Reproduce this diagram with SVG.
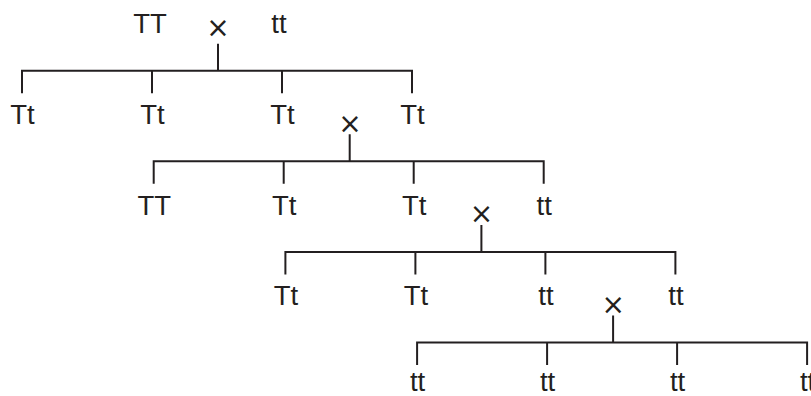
<svg xmlns="http://www.w3.org/2000/svg" width="811" height="396" viewBox="0 0 811 396">
<style>
.lbl{font-family:"Liberation Sans",Arial,sans-serif;font-size:27.5px;fill:#231f20;text-anchor:middle}
.x{font-family:"DejaVu Sans",sans-serif;font-size:28px;fill:#231f20;text-anchor:middle}
.ln{stroke:#231f20;stroke-width:2;fill:none}
</style>
<rect width="811" height="396" fill="#fff"/>
<g id="connectors" class="ln">
<path d="M218 43.7V70.7M22 93.2V70.7H412V93.2M152 70.7V93.2M282 70.7V93.2"/>
<path d="M349.7 134.3V161.3M153.7 183.8V161.3H543.7V183.8M283.7 161.3V183.8M413.7 161.3V183.8"/>
<path d="M481.4 224.9V251.9M285.4 274.4V251.9H675.4V274.4M415.4 251.9V274.4M545.4 251.9V274.4"/>
<path d="M613.1 315.5V342.5M417.1 365V342.5H807.1V365M547.1 342.5V365M677.1 342.5V365"/>
</g>
<g id="cross1"><text class="x" x="218" y="37">×</text></g>
<g id="cross2"><text class="x" x="350" y="132.5">×</text></g>
<g id="cross3"><text class="x" x="481.5" y="223">×</text></g>
<g id="cross4"><text class="x" x="613.2" y="314">×</text></g>
<g id="p-TT"><text class="lbl" x="150" y="32.5">TT</text></g>
<g id="p-tt"><text class="lbl" x="279" y="32.5">tt</text></g>
<g id="n1-1"><text class="lbl" x="22.5" y="124.2">Tt</text></g>
<g id="n1-2"><text class="lbl" x="152.5" y="124.2">Tt</text></g>
<g id="n1-3"><text class="lbl" x="282.5" y="124.2">Tt</text></g>
<g id="n1-4"><text class="lbl" x="412.5" y="124.2">Tt</text></g>
<g id="n2-1"><text class="lbl" x="154.2" y="214.8">TT</text></g>
<g id="n2-2"><text class="lbl" x="284.2" y="214.8">Tt</text></g>
<g id="n2-3"><text class="lbl" x="414.2" y="214.8">Tt</text></g>
<g id="n2-4"><text class="lbl" x="544.2" y="214.8">tt</text></g>
<g id="n3-1"><text class="lbl" x="285.9" y="305.4">Tt</text></g>
<g id="n3-2"><text class="lbl" x="415.9" y="305.4">Tt</text></g>
<g id="n3-3"><text class="lbl" x="545.9" y="305.4">tt</text></g>
<g id="n3-4"><text class="lbl" x="675.9" y="305.4">tt</text></g>
<g id="n4-1"><text class="lbl" x="417.6" y="391">tt</text></g>
<g id="n4-2"><text class="lbl" x="547.6" y="391">tt</text></g>
<g id="n4-3"><text class="lbl" x="677.6" y="391">tt</text></g>
<g id="n4-4"><text class="lbl" x="807.6" y="391">tt</text></g>
</svg>
